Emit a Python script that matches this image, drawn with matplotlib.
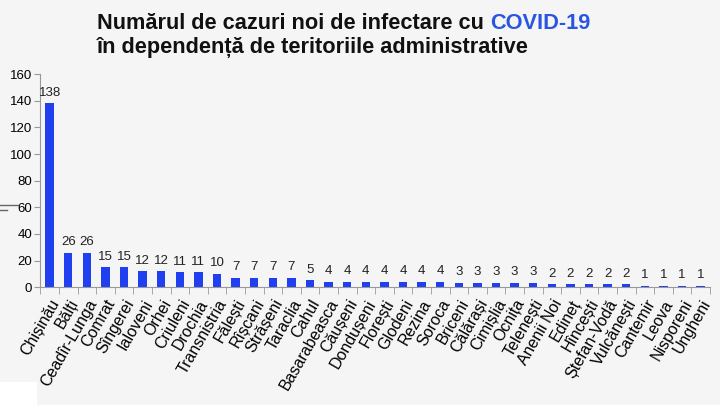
import matplotlib.pyplot as plt
from matplotlib.patches import Rectangle
from matplotlib.lines import Line2D
import numpy as np

raioane = ["Chișinău", "Bălți", "Ceadîr-Lunga", "Comrat", "Sîngerei", "Ialoveni",
           "Orhei", "Criuleni", "Drochia", "Transnistria", "Fălești", "Rîșcani",
           "Strășeni", "Taraclia", "Cahul", "Basarabeasca", "Căușeni", "Dondușeni",
           "Florești", "Glodeni", "Rezina", "Soroca", "Briceni", "Călărași",
           "Cimișlia", "Ocnița", "Telenești", "Anenii Noi", "Edineț", "Hîncești",
           "Ștefan-Vodă", "Vulcănești", "Cantemir", "Leova", "Nisporeni", "Ungheni"]
cazuri = [138, 26, 26, 15, 15, 12, 12, 11, 11, 10, 7, 7, 7, 7, 5, 4, 4, 4,
          4, 4, 4, 4, 3, 3, 3, 3, 3, 2, 2, 2, 2, 2, 1, 1, 1, 1]

plt.rcParams['font.family'] = ['Liberation Sans', 'DejaVu Sans']
bg = '#f5f5f5'
fig = plt.figure(figsize=(7.2, 4.05), dpi=100, facecolor=bg)
ax = fig.add_axes([0.056, 0.291, 0.93, 0.526], facecolor=bg)

x = np.arange(len(raioane))
ax.bar(x, cazuri, width=0.45, color='#1f3ff0')
for xi, v in zip(x, cazuri):
    ax.text(xi, v + 3.5, str(v), ha='center', va='bottom', fontsize=9.5, color='#222222')

ax.set_xlim(-0.5, len(raioane) - 0.5)
ax.set_ylim(0, 160)
ax.set_yticks(range(0, 161, 20))
ax.tick_params(axis='y', labelsize=9.5, length=4, color='#999999', pad=2)
ax.set_xticks(x)
ax.set_xticklabels(raioane, rotation=60, ha='right', rotation_mode='anchor', fontsize=11.5)
ax.tick_params(axis='x', length=0, pad=7)
ax.set_xticks(np.arange(len(raioane) + 1) - 0.5, minor=True)
ax.tick_params(axis='x', which='minor', length=5, color='#999999')
for s in ['top', 'right']:
    ax.spines[s].set_visible(False)
for s in ['left', 'bottom']:
    ax.spines[s].set_color('#999999')

# titlu
tfont = dict(fontsize=15.7, fontweight='bold', va='baseline')
t1 = fig.text(0.135, 0.928, "Numărul de cazuri noi de infectare cu ", color='#111111', **tfont)
fig.canvas.draw()
bb = t1.get_window_extent()
fig.text(bb.x1 / 720, 0.928, "COVID-19", color='#2a55e0', **tfont)
fig.text(0.135, 0.87, "în dependență de teritoriile administrative", color='#111111', **tfont)

# artefacte din captura originala
fig.patches.append(Rectangle((0, 0), 0.052, 0.057, transform=fig.transFigure,
                             facecolor='white', edgecolor='none'))
fig.lines.append(Line2D([0.0, 0.025], [1 - 205 / 405] * 2, transform=fig.transFigure,
                        color='#666666', lw=1))
fig.lines.append(Line2D([0.0, 0.01], [1 - 210 / 405] * 2, transform=fig.transFigure,
                        color='#666666', lw=1))

fig.savefig('out.png', dpi=100, facecolor=bg)
